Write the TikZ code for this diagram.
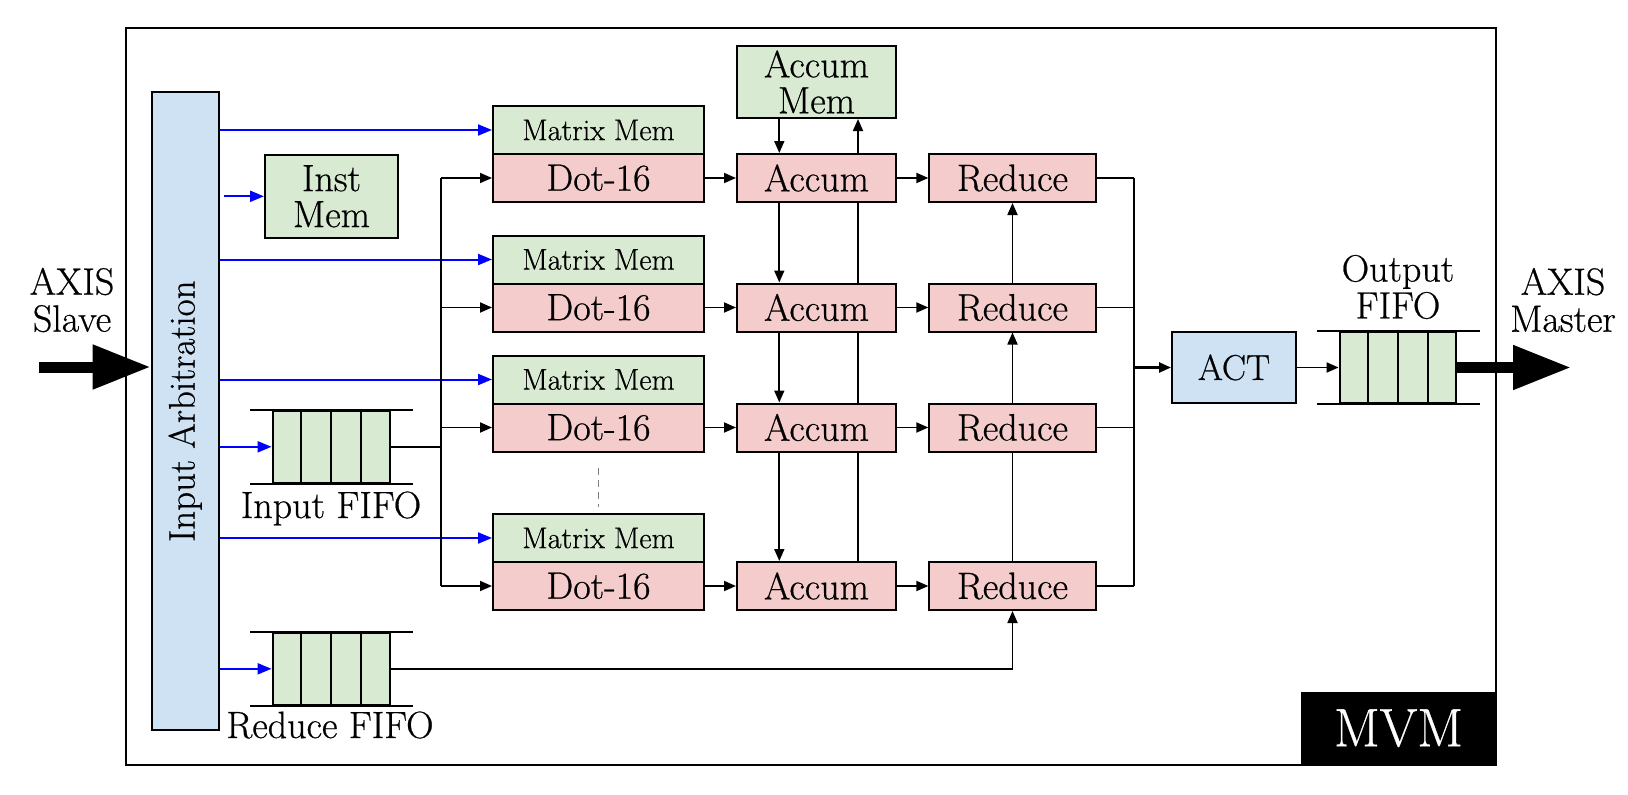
\documentclass[tikz,border=0pt]{standalone}
\usepackage{fontspec}
\setmainfont{Latin Modern Roman}[FakeBold=0.6]
\usetikzlibrary{arrows.meta,calc}
\definecolor{lblue}{HTML}{CFE2F3}
\definecolor{lgreen}{HTML}{D9EAD3}
\definecolor{lred}{HTML}{F4CCCC}
\tikzset{
 box/.style={draw=black, line width=2pt, inner sep=0pt, align=center, font=\fontsize{38}{36}\selectfont},
 gbox/.style={box, fill=lgreen},
 rbox/.style={box, fill=lred},
 bbox/.style={box, fill=lblue},
 fifobox/.style={draw=black, fill=lgreen, line width=2pt, inner sep=0pt, minimum width=117pt, minimum height=71.5pt},
 conn/.style={line width=1.8pt},
 arr/.style={conn, -{Triangle[length=12pt,width=10pt]}},
 barr/.style={line width=2pt, blue, -{Triangle[length=14pt,width=11pt]}},
 big/.style={line width=11pt, -{Triangle[length=58pt,width=42pt]}},
 lbl/.style={inner sep=0pt, align=center, font=\fontsize{38}{37}\selectfont},
}
\begin{document}
\begin{tikzpicture}[x=1pt,y=-1pt]
\useasboundingbox (0,0) rectangle (1628,795);
% outer module box
\node[draw, line width=2pt, inner sep=0pt, minimum width=1370.4pt, minimum height=737pt] (mvm) at (810.8,396.5) {};
\node[fill=black, inner sep=0pt, minimum width=195pt, minimum height=73.5pt, text=white, font=\fontsize{54}{54}\selectfont] (mvmtag) at (1398.5,728.25) {MVM};

% input arbitration
\node[bbox, minimum width=67pt, minimum height=637.7pt] (arb) at (185.15,411.15) {};
\node[lbl, rotate=90, font=\fontsize{37}{37}\selectfont] (arblabel) at (arb.center) {Input Arbitration};

\node[gbox, minimum width=133pt, minimum height=82.7pt] (inst) at (331.5,196.3) {Inst\\Mem};
\node[gbox, minimum width=159pt, minimum height=72pt] (accmem) at (816.5,82) {Accum\\Mem};

\foreach \i/\y in {1/178,2/307.5,3/427.5,4/586}{
  \node[gbox, minimum width=211pt, minimum height=48pt, font=\fontsize{30}{30}\selectfont] (mm\i) at (598.5,\y-48) {Matrix Mem};
  \node[rbox, minimum width=211pt, minimum height=48pt] (dot\i) at (598.5,\y) {Dot-16};
  \node[rbox, minimum width=159pt, minimum height=48pt] (acc\i) at (816.5,\y) {Accum};
  \node[rbox, minimum width=166.3pt, minimum height=48pt] (red\i) at (1012.5,\y) {Reduce};
}

\node[bbox, minimum width=124pt, minimum height=71pt, font=\fontsize{36}{36}\selectfont] (act) at (1234,367.5) {ACT};

% FIFOs
\node[fifobox] (infifo) at (331.05,446.8) {};
\node[fifobox] (redfifo) at (331.05,668.8) {};
\node[fifobox, minimum width=116.7pt] (outfifo) at (1397.95,367.5) {};
\foreach \f in {infifo,redfifo,outfifo}{
  \foreach \k in {1,2,3}{
    \draw[line width=2pt] ($(\f.north west)!\k/4!(\f.north east)$) -- ($(\f.south west)!\k/4!(\f.south east)$);
  }
  \draw[line width=2pt] ([xshift=-21.5pt]\f.north west) -- ([xshift=22.4pt]\f.north east);
  \draw[line width=2pt] ([xshift=-21.5pt]\f.south west) -- ([xshift=22.4pt]\f.south east);
}

% labels
\node[lbl] (axisslave) at (72,300) {AXIS\\Slave};
\node[lbl] (axismaster) at (1563,300) {AXIS\\Master};
\node[lbl] (outlbl) at (1398,287) {Output\\FIFO};
\node[lbl, anchor=base] (inlbl) at (331,518) {Input FIFO};
\node[lbl, anchor=base] (redlbl) at (330,738) {Reduce FIFO};

% blue arrows from arbitration
\foreach \i in {1,...,4}{
  \draw[barr] (arb.east |- mm\i.west) -- (mm\i.west);
}
\draw[barr, shorten <=4pt] (arb.east |- inst.west) -- (inst.west);
\draw[barr] (arb.east |- infifo.west) -- (infifo.west);
\draw[barr] (arb.east |- redfifo.west) -- (redfifo.west);

% input fifo bus
\coordinate (busin) at (441,0);
\draw[line width=2.4pt] (infifo.east) -- (busin |- infifo.east);
\draw[conn] (busin |- dot1.west) -- (busin |- dot4.west);
\foreach \i in {1,...,4}{
  \draw[arr] (busin |- dot\i.west) -- (dot\i.west);
  \draw[arr] (dot\i.east) -- (acc\i.west);
  \draw[arr] (acc\i.east) -- (red\i.west);
}

% dashed continuation
\draw[gray, line width=1.5pt, dash pattern=on 7pt off 5pt, shorten <=15pt, shorten >=6pt] (dot3.south) -- (mm4.north);

% accumulator chain
\coordinate (ca) at (779.3,0);
\coordinate (cb) at (858,0);
\draw[arr] (accmem.south -| ca) -- (acc1.north -| ca);
\draw[arr] (acc1.north -| cb) -- (accmem.south -| cb);
\foreach \i/\j in {1/2,2/3,3/4}{
  \draw[arr] (acc\i.south -| ca) -- (acc\j.north -| ca);
  \draw[conn] (acc\j.north -| cb) -- (acc\i.south -| cb);
}

% reduce chain
\draw[conn] (red4.north) -- (red3.south);
\draw[arr] (red3.north) -- (red2.south);
\draw[arr] (red2.north) -- (red1.south);
\draw[arr] (redfifo.east) -| (red4.south);

% reduce outputs to ACT
\coordinate (busout) at (1133.7,0);
\foreach \i in {1,...,4}{
  \draw[conn] (red\i.east) -- (busout |- red\i.east);
}
\draw[conn] (busout |- red1.east) -- (busout |- red4.east);
\draw[arr, line width=2.4pt] (busout |- act.west) -- (act.west);
\draw[arr] (act.east) -- (outfifo.west);

% AXIS big arrows
\coordinate (axisin) at (39,367);
\draw[big] (axisin) -- (axisin -| arb.west);
\coordinate (axisout) at (1571,367.5);
\draw[big] (outfifo.east) -- (axisout);
\end{tikzpicture}
\end{document}
